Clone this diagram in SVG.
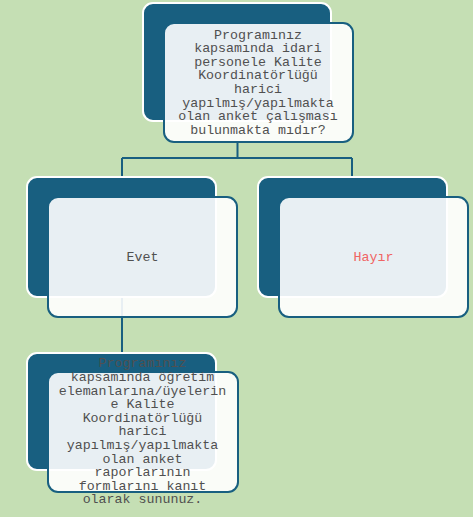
<svg xmlns="http://www.w3.org/2000/svg" width="473" height="517" viewBox="0 0 473 517">
<style>
.bg{fill:#c5dfb4}
.dk{fill:#185f80;stroke:#ffffff;stroke-width:2}
.lt{fill:#ffffff;fill-opacity:0.9;stroke:#185f80;stroke-width:2}
.con{fill:none;stroke:#185f80;stroke-width:2}
text{font-family:"Liberation Mono","Courier New",monospace;font-size:13.3px;fill:#505050;text-anchor:middle}
.no{fill:#f06464}
</style>
<rect class="bg" x="0" y="0" width="473" height="517"/>
<g id="connectors">
<path class="con" d="M237.5,142 V158 M122,158 H352 M122,158 V178 M352,158 V178"/>
<path class="con" d="M122,297 V354"/>
</g>
<g id="node-question">
<rect class="dk" x="143" y="3" width="188" height="118" rx="10"/>
<rect class="lt" x="164" y="23" width="189" height="119" rx="10"/>
<text x="258" y="38.5">Programınız</text>
<text x="258" y="52.1">kapsamında idari</text>
<text x="258" y="65.7">personele Kalite</text>
<text x="258" y="79.3">Koordinatörlüğü</text>
<text x="258" y="92.9">harici</text>
<text x="258" y="106.5">yapılmış/yapılmakta</text>
<text x="258" y="120.1">olan anket çalışması</text>
<text x="258" y="133.7">bulunmakta mıdır?</text>
</g>
<g id="node-evet">
<rect class="dk" x="27" y="177" width="189" height="120" rx="10"/>
<rect class="lt" x="48" y="197" width="189" height="120" rx="10"/>
<text x="142.5" y="261">Evet</text>
</g>
<g id="node-hayir">
<rect class="dk" x="258" y="177" width="189" height="120" rx="10"/>
<rect class="lt" x="279" y="197" width="189" height="120" rx="10"/>
<text class="no" x="373.5" y="261">Hayır</text>
</g>
<g id="node-evidence">
<rect class="dk" x="27" y="353" width="189" height="117" rx="10"/>
<rect class="lt" x="48" y="372" width="190" height="120" rx="10"/>
<text x="142.5" y="367.3">Programınız</text>
<text x="142.5" y="380.9">kapsamında öğretim</text>
<text x="142.5" y="394.5">elemanlarına/üyelerin</text>
<text x="142.5" y="408.1">e Kalite</text>
<text x="142.5" y="421.7">Koordinatörlüğü</text>
<text x="142.5" y="435.3">harici</text>
<text x="142.5" y="448.9">yapılmış/yapılmakta</text>
<text x="142.5" y="462.5">olan anket</text>
<text x="142.5" y="476.1">raporlarının</text>
<text x="142.5" y="489.7">formlarını kanıt</text>
<text x="142.5" y="503.3">olarak sununuz.</text>
</g>
</svg>
